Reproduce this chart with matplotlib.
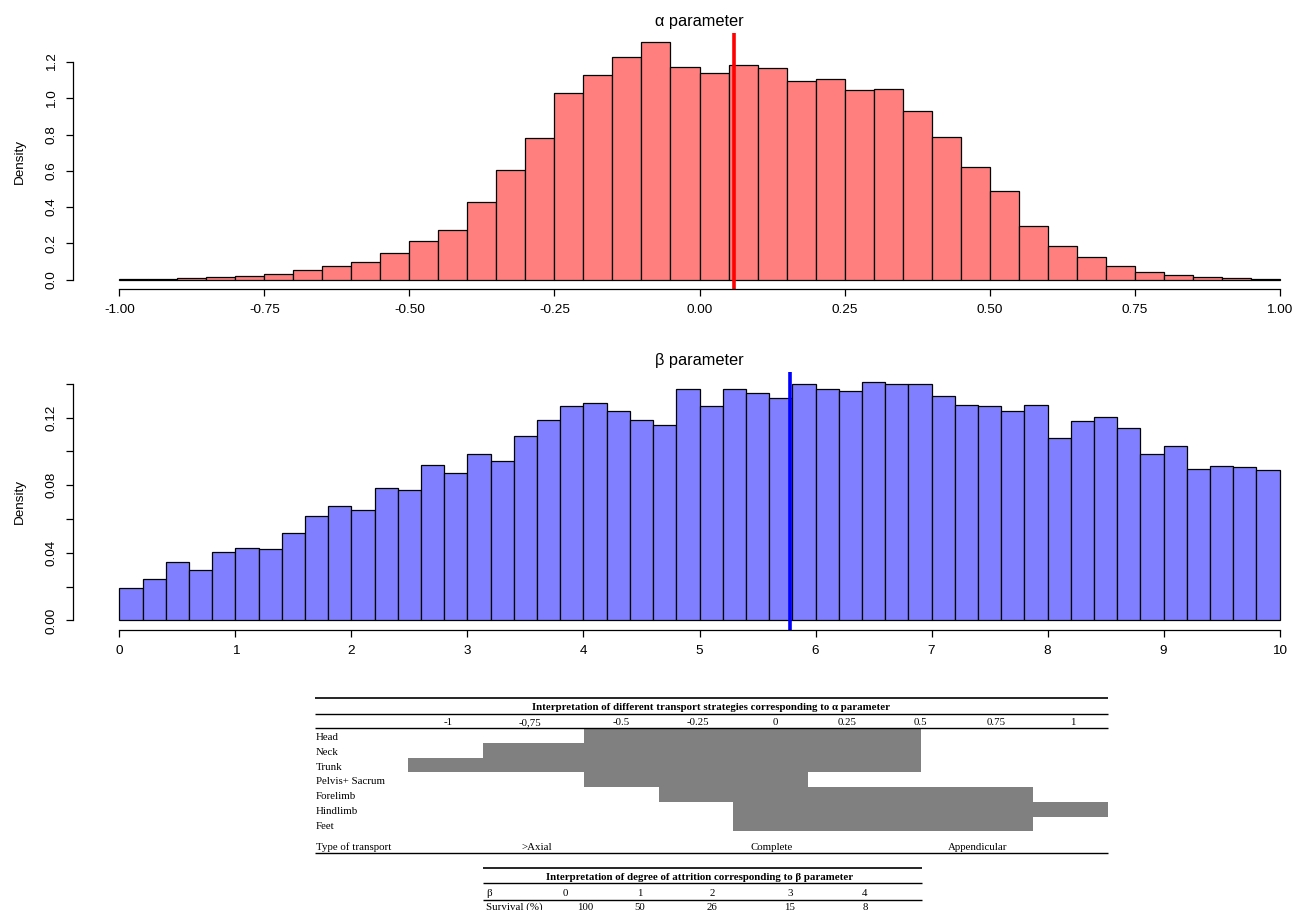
import matplotlib
matplotlib.use('Agg')
import matplotlib.pyplot as plt
from matplotlib.patches import Rectangle
import numpy as np

# ---- data ----
alpha_edges = np.linspace(-1, 1, 41)
alpha_density = [0.003, 0.005, 0.006, 0.012, 0.017, 0.030, 0.053, 0.077, 0.096, 0.149,
                 0.214, 0.274, 0.429, 0.606, 0.781, 1.028, 1.129, 1.230, 1.308, 1.173,
                 1.140, 1.182, 1.168, 1.098, 1.105, 1.048, 1.053, 0.928, 0.786, 0.622,
                 0.486, 0.298, 0.184, 0.125, 0.072, 0.042, 0.024, 0.013, 0.006, 0.004]
alpha_mark = 0.06
alpha_xticks = [-1.0, -0.75, -0.5, -0.25, 0.0, 0.25, 0.5, 0.75, 1.0]
alpha_yticks = [0.0, 0.2, 0.4, 0.6, 0.8, 1.0, 1.2]

beta_edges = np.linspace(0, 10, 51)
beta_density = [0.0190, 0.0246, 0.0345, 0.0301, 0.0407, 0.0426, 0.0422, 0.0516, 0.0619, 0.0676,
                0.0655, 0.0785, 0.0774, 0.0920, 0.0871, 0.0984, 0.0946, 0.1090, 0.1184, 0.1271,
                0.1289, 0.1242, 0.1184, 0.1158, 0.1367, 0.1267, 0.1372, 0.1347, 0.1315, 0.1400,
                0.1367, 0.1357, 0.1414, 0.1400, 0.1400, 0.1331, 0.1273, 0.1267, 0.1242, 0.1273,
                0.1081, 0.1180, 0.1202, 0.1138, 0.0984, 0.1035, 0.0896, 0.0916, 0.0906, 0.0890]
beta_mark = 5.78
beta_xticks = list(range(0, 11))
beta_yticks = [0.0, 0.02, 0.04, 0.06, 0.08, 0.10, 0.12, 0.14]
beta_ylabels = ['0.00', '', '0.04', '', '0.08', '', '0.12', '']

# table contents
tbl1_title = 'Interpretation of different transport strategies corresponding to α parameter'
tbl1_heads = ['-1', '-0,75', '-0.5', '-0.25', '0', '0.25', '0.5', '0.75', '1']
parts = ['Head', 'Neck', 'Trunk', 'Pelvis+ Sacrum', 'Forelimb', 'Hindlimb', 'Feet']
part_span = [(2, 6), (1, 6), (0, 6), (2, 5), (3, 7), (4, 8), (4, 7)]
transport = ['>Axial', 'Complete', 'Appendicular']
tbl2_title = 'Interpretation of degree of attrition corresponding to β parameter'
beta_tbl = ['0', '1', '2', '3', '4']
survival = ['100', '50', '26', '15', '8']

W, H = 1309, 910
fig = plt.figure(figsize=(W / 100, H / 100), dpi=100)
plt.rcParams['font.family'] = ['Liberation Sans', 'DejaVu Sans']


def px_axes(left, right, top, bottom):
    return fig.add_axes([left / W, 1 - bottom / H, (right - left) / W, (bottom - top) / H])


def r_hist(ax, edges, dens, color, mark, mcolor, xticks, xlabels, yticks, ylabels, title):
    m = max(dens)
    ax.bar(edges[:-1], dens, width=np.diff(edges), align='edge', color=color,
           edgecolor='black', linewidth=0.9)
    span = edges[-1] - edges[0]
    ax.set_xlim(edges[0] - 0.04 * span, edges[-1] + 0.04 * span)
    ax.set_ylim(-0.04 * m, 1.04 * m)
    ax.axvline(mark, color=mcolor, linewidth=2.6)
    for s in ['top', 'right']:
        ax.spines[s].set_visible(False)
    ax.spines['bottom'].set_bounds(xticks[0], xticks[-1])
    ax.spines['left'].set_bounds(yticks[0], yticks[-1])
    for s in ['bottom', 'left']:
        ax.spines[s].set_linewidth(0.9)
    ax.set_xticks(xticks)
    ax.set_xticklabels(xlabels)
    ax.set_yticks(yticks)
    ax.set_yticklabels(ylabels, rotation=90, va='center')
    ax.tick_params(length=5, width=0.9, labelsize=9.7, pad=6)
    ax.set_ylabel('Density', fontsize=9.7)
    ax.yaxis.set_label_coords(-47 / ax.bbox.width, 0.5)
    ax.set_title(title, fontsize=11.8, pad=5)


ax1 = px_axes(73, 1326, 33, 289)
r_hist(ax1, alpha_edges, alpha_density, '#ff7f7f', alpha_mark, 'red',
       alpha_xticks, ['%.2f' % v for v in alpha_xticks],
       alpha_yticks, ['%.1f' % v for v in alpha_yticks], 'α parameter')

ax2 = px_axes(73, 1326, 372, 630)
r_hist(ax2, beta_edges, beta_density, '#7f7fff', beta_mark, 'blue',
       beta_xticks, [str(v) for v in beta_xticks],
       beta_yticks, beta_ylabels, 'β parameter')

# ---- interpretation tables, drawn in pixel space ----
tab = fig.add_axes([0, 0, 1, 1])
tab.set_xlim(0, W)
tab.set_ylim(H, 0)
tab.axis('off')
tfont = dict(family=['Liberation Serif', 'DejaVu Serif'], fontsize=7.8, color='black',
             va='baseline')
bl = 3.7  # centre -> baseline offset in px

t_left, t_right = 315, 1108
for y, lw in [(698, 1.2), (713.5, 1.0), (728.3, 1.0), (853.3, 1.0)]:
    tab.plot([t_left, t_right], [y, y], color='black', lw=lw, solid_capstyle='butt')
tab.text((t_left + t_right) / 2, 706 + bl, tbl1_title, ha='center',
         fontweight='bold', **tfont)

head_x = [448, 530, 621, 698, 775, 847, 920, 996, 1073]
for x, s in zip(head_x, tbl1_heads):
    tab.text(x, 721.5 + bl, s, ha='center', **tfont)

col_edges = [408, 483, 584, 659, 733, 808, 921, 1033, 1108]
row_h = 14.7
for i, (name, (a, b)) in enumerate(zip(parts, part_span)):
    top = 728.3 + i * row_h
    tab.add_patch(Rectangle((col_edges[a], top), col_edges[b] - col_edges[a], row_h,
                            facecolor='#808080', edgecolor='none'))
    tab.text(t_left + 1, top + row_h / 2 + 1 + bl, name, ha='left', **tfont)

ty = 846.5 + bl
tab.text(t_left + 1, ty, 'Type of transport', ha='left', **tfont)
tab.text(521, ty, transport[0], ha='left', **tfont)
tab.text(772, ty, transport[1], ha='center', **tfont)
tab.text(978, ty, transport[2], ha='center', **tfont)

t2_left, t2_right = 483, 922
for y, lw in [(868.3, 1.2), (883.3, 1.0), (899.5, 1.0)]:
    tab.plot([t2_left, t2_right], [y, y], color='black', lw=lw, solid_capstyle='butt')
tab.text(700, 876.5 + bl, tbl2_title, ha='center', fontweight='bold', **tfont)
tab.text(t2_left + 3, 892 + bl, 'β', ha='left', **tfont)
tab.text(t2_left + 3, 906.5 + bl, 'Survival (%)', ha='left', **tfont)
b_x = [565, 640, 712, 790, 865]
s_x = [585, 640, 712, 790, 865]
for x, s in zip(b_x, beta_tbl):
    tab.text(x, 892 + bl, s, ha='center', **tfont)
for x, s in zip(s_x, survival):
    tab.text(x, 906.5 + bl, s, ha='center', **tfont)

fig.savefig('out.png', dpi=100)
